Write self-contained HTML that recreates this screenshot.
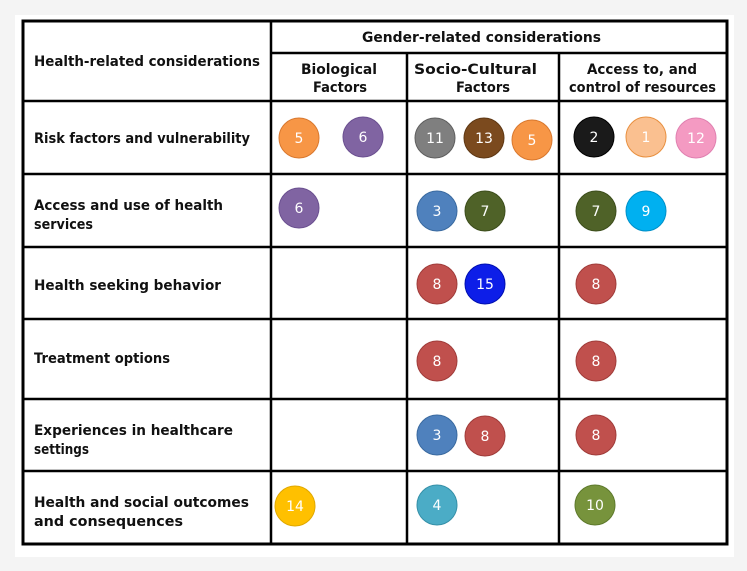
<!DOCTYPE html>
<html><head><style>
html,body{margin:0;padding:0;background:#f4f4f4;}
svg{display:block}
text{font-family:"DejaVu Sans","Liberation Sans",sans-serif;}
.h{font-size:14px;font-weight:bold;fill:#111}
.c{font-size:14px;fill:#fff;text-anchor:middle}
</style></head><body>
<svg width="747" height="571" viewBox="0 0 747 571" xmlns="http://www.w3.org/2000/svg">
<rect x="0" y="0" width="747" height="571" fill="#f4f4f4"/>
<rect x="15" y="15" width="719" height="542" fill="#fff"/>
<g stroke="#000" stroke-width="2.5" fill="none">
<rect x="23" y="21" width="704" height="523" stroke-width="3"/>
<line x1="271" y1="21" x2="271" y2="544"/>
<line x1="407" y1="53" x2="407" y2="544"/>
<line x1="559" y1="53" x2="559" y2="544"/>
<line x1="271" y1="53" x2="727" y2="53"/>
<line x1="23" y1="101" x2="727" y2="101"/>
<line x1="23" y1="174" x2="727" y2="174"/>
<line x1="23" y1="247" x2="727" y2="247"/>
<line x1="23" y1="319" x2="727" y2="319"/>
<line x1="23" y1="399" x2="727" y2="399"/>
<line x1="23" y1="471" x2="727" y2="471"/>
</g>
<g class="h" lengthAdjust="spacingAndGlyphs">
<text x="34" y="66" textLength="226" lengthAdjust="spacingAndGlyphs">Health-related considerations</text>
<text x="362" y="42" textLength="239" lengthAdjust="spacingAndGlyphs">Gender-related  considerations</text>
<text x="301" y="74" textLength="76" lengthAdjust="spacingAndGlyphs">Biological</text>
<text x="313" y="92" textLength="54" lengthAdjust="spacingAndGlyphs">Factors</text>
<text x="414" y="74" textLength="123" lengthAdjust="spacingAndGlyphs">Socio-Cultural</text>
<text x="456" y="92" textLength="54" lengthAdjust="spacingAndGlyphs">Factors</text>
<text x="587" y="74" textLength="110" lengthAdjust="spacingAndGlyphs">Access to, and</text>
<text x="569" y="92" textLength="147" lengthAdjust="spacingAndGlyphs">control of resources</text>
<text x="34" y="143" textLength="216" lengthAdjust="spacingAndGlyphs">Risk factors and vulnerability</text>
<text x="34" y="210" textLength="189" lengthAdjust="spacingAndGlyphs">Access and use of health</text>
<text x="34" y="229" textLength="59" lengthAdjust="spacingAndGlyphs">services</text>
<text x="34" y="290" textLength="187" lengthAdjust="spacingAndGlyphs">Health seeking behavior</text>
<text x="34" y="363" textLength="136" lengthAdjust="spacingAndGlyphs">Treatment options</text>
<text x="34" y="435" textLength="199" lengthAdjust="spacingAndGlyphs">Experiences in healthcare</text>
<text x="34" y="454" textLength="55" lengthAdjust="spacingAndGlyphs">settings</text>
<text x="34" y="507" textLength="215" lengthAdjust="spacingAndGlyphs">Health and social outcomes</text>
<text x="34" y="526" textLength="149" lengthAdjust="spacingAndGlyphs">and consequences</text>
</g>
<g stroke-width="1">
<circle cx="299" cy="138" r="20" fill="#f79646" stroke="#d9782e"/>
<circle cx="363" cy="137" r="20" fill="#8064a2" stroke="#6b5090"/>
<circle cx="435" cy="138" r="20" fill="#7f7f7f" stroke="#5f5f5f"/>
<circle cx="484" cy="138" r="20" fill="#7b4a1e" stroke="#5f3814"/>
<circle cx="532" cy="140" r="20" fill="#f79646" stroke="#d9782e"/>
<circle cx="594" cy="137" r="20" fill="#1a1a1a" stroke="#000"/>
<circle cx="646" cy="137" r="20" fill="#fac090" stroke="#e89040"/>
<circle cx="696" cy="138" r="20" fill="#f49ac2" stroke="#e080b0"/>
<circle cx="299" cy="208" r="20" fill="#8064a2" stroke="#6b5090"/>
<circle cx="437" cy="211" r="20" fill="#4f81bd" stroke="#3a6aa0"/>
<circle cx="485" cy="211" r="20" fill="#4f6228" stroke="#3d4e1c"/>
<circle cx="596" cy="211" r="20" fill="#4f6228" stroke="#3d4e1c"/>
<circle cx="646" cy="211" r="20" fill="#00b0f0" stroke="#0090c8"/>
<circle cx="437" cy="284" r="20" fill="#c0504d" stroke="#a03c3a"/>
<circle cx="485" cy="284" r="20" fill="#0d1ee8" stroke="#0010b0"/>
<circle cx="596" cy="284" r="20" fill="#c0504d" stroke="#a03c3a"/>
<circle cx="437" cy="361" r="20" fill="#c0504d" stroke="#a03c3a"/>
<circle cx="596" cy="361" r="20" fill="#c0504d" stroke="#a03c3a"/>
<circle cx="437" cy="435" r="20" fill="#4f81bd" stroke="#3a6aa0"/>
<circle cx="485" cy="436" r="20" fill="#c0504d" stroke="#a03c3a"/>
<circle cx="596" cy="435" r="20" fill="#c0504d" stroke="#a03c3a"/>
<circle cx="295" cy="506" r="20" fill="#ffc000" stroke="#e0a800"/>
<circle cx="437" cy="505" r="20" fill="#4bacc6" stroke="#3590a8"/>
<circle cx="595" cy="505" r="20" fill="#77933c" stroke="#5e7a2c"/>
</g>
<g class="c">
<text x="299" y="143">5</text>
<text x="363" y="142">6</text>
<text x="435" y="143">11</text>
<text x="484" y="143">13</text>
<text x="532" y="145">5</text>
<text x="594" y="142">2</text>
<text x="646" y="142">1</text>
<text x="696" y="143">12</text>
<text x="299" y="213">6</text>
<text x="437" y="216">3</text>
<text x="485" y="216">7</text>
<text x="596" y="216">7</text>
<text x="646" y="216">9</text>
<text x="437" y="289">8</text>
<text x="485" y="289">15</text>
<text x="596" y="289">8</text>
<text x="437" y="366">8</text>
<text x="596" y="366">8</text>
<text x="437" y="440">3</text>
<text x="485" y="441">8</text>
<text x="596" y="440">8</text>
<text x="295" y="511">14</text>
<text x="437" y="510">4</text>
<text x="595" y="510">10</text>
</g>
</svg>
</body></html>
